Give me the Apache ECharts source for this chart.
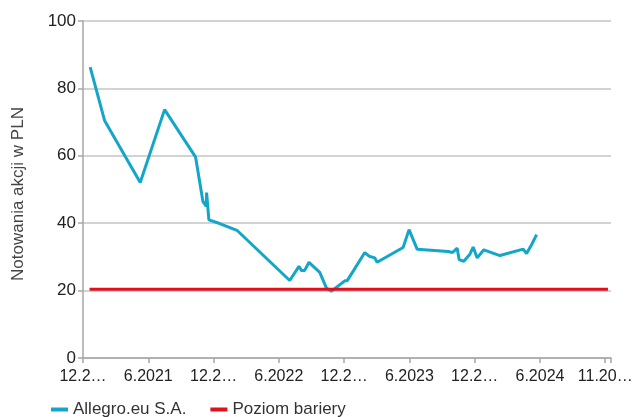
<!DOCTYPE html>
<html>
<head>
<meta charset="utf-8">
<script src="https://cdn.jsdelivr.net/npm/echarts@6/dist/echarts.min.js"></script>
<style>
  html, body { margin: 0; padding: 0; background: #fff; }
  #chart { width: 639px; height: 417px; }
</style>
</head>
<body>
<div id="chart"></div>
<script>
// months counted from 12.2020
var tickLabels = ['12.2…', '6.2021', '12.2…', '6.2022', '12.2…', '6.2023', '12.2…', '6.2024', '11.20…'];

var allegroMonths = [0.66, 1.98, 5.26, 7.50, 10.35, 11.02, 11.33, 11.36, 11.57, 12.56, 14.15,
    19.0, 19.85, 20.07, 20.38, 20.77, 21.76, 22.37, 22.83, 24.06, 24.27, 24.82, 25.90,
    26.30, 26.82, 27.03, 29.42, 29.97, 30.71, 33.56, 33.97, 34.39, 34.57, 35.0, 35.56,
    35.86, 36.23, 36.84, 38.32, 40.46, 40.77, 41.23, 41.69];
var allegroPrice = [86.3, 70.5, 52.1, 73.7, 59.6, 46.5, 45.0, 49.1, 41.0, 39.9, 37.9,
    23.0, 27.2, 26.0, 26.0, 28.4, 25.4, 20.8, 19.8, 22.9, 22.9, 25.7, 31.3,
    30.2, 29.7, 28.4, 32.8, 38.1, 32.3, 31.6, 31.3, 32.6, 29.2, 28.7, 30.8,
    32.9, 29.7, 32.1, 30.4, 32.3, 31.0, 33.6, 36.6];

var barrierMonths = [0.6, 48.25];
var barrierLevel = [20.4, 20.4];

function pairs(xs, ys) {
    var out = [];
    for (var i = 0; i < xs.length; i++) {
        out.push([xs[i], ys[i]]);
    }
    return out;
}

var myChart = echarts.init(document.getElementById('chart'));
myChart.setOption({
    backgroundColor: '#fff',
    animation: false,
    textStyle: { fontFamily: 'Liberation Sans' },
    grid: { left: 83, right: 28, top: 21, bottom: 59, containLabel: false },
    legend: {
        left: 46,
        top: 396,
        icon: 'rect',
        itemWidth: 17,
        itemHeight: 4,
        itemGap: 24,
        textStyle: { fontSize: 17, color: '#333', fontFamily: 'Liberation Sans' },
        data: ['Allegro.eu S.A.', 'Poziom bariery']
    },
    xAxis: {
        type: 'value',
        min: 0,
        max: 48.53,
        interval: 6,
        axisLine: { lineStyle: { color: '#a6a6a6', width: 1.5 } },
        axisTick: { show: true, length: 5, lineStyle: { color: '#a6a6a6', width: 1.5 } },
        splitLine: { show: false },
        showMaxLabel: false,
        axisLabel: {
            fontSize: 16,
            color: '#222',
            margin: 11,
            formatter: function (v) {
                var i = Math.round(v / 6);
                if (Math.abs(v - i * 6) > 0.01) return '';
                return tickLabels[i] || '';
            }
        }
    },
    yAxis: {
        type: 'value',
        min: 0,
        max: 100,
        interval: 20,
        name: 'Notowania akcji w PLN',
        nameLocation: 'middle',
        nameGap: 56,
        nameTextStyle: { fontSize: 17, color: '#444', padding: [0, 9, 0, 0] },
        axisLine: { show: true, lineStyle: { color: '#a6a6a6', width: 1.5 } },
        axisTick: { show: true, length: 5, lineStyle: { color: '#a6a6a6', width: 1.5 } },
        splitLine: { lineStyle: { color: '#c4c4c4', width: 1.5 } },
        axisLabel: { fontSize: 17, color: '#222', margin: 7 }
    },
    series: [
        {
            name: 'Allegro.eu S.A.',
            type: 'line',
            symbol: 'none',
            color: '#14a6c8',
            lineStyle: { width: 3 },
            data: pairs(allegroMonths, allegroPrice)
        },
        {
            name: 'Poziom bariery',
            type: 'line',
            symbol: 'none',
            color: '#e2101c',
            lineStyle: { width: 3 },
            data: pairs(barrierMonths, barrierLevel)
        }
    ]
});
</script>
</body>
</html>
